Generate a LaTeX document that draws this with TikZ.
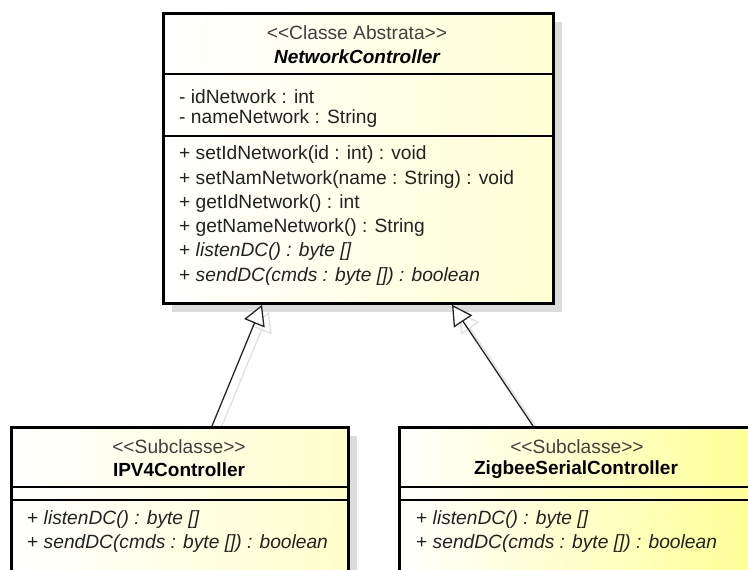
\documentclass[tikz,border=0pt]{standalone}
\usepackage{fontspec}
\setmainfont{Liberation Sans}[Ligatures=TeXOff]
\usetikzlibrary{arrows.meta,calc,shadows,backgrounds}
\definecolor{ylA}{HTML}{FFFFD4}
\definecolor{ylB}{HTML}{FFFFCC}
\definecolor{ylC}{HTML}{FFFF96}
\definecolor{shd}{HTML}{DCDCDC}
\definecolor{txt}{HTML}{222222}
\definecolor{stxt}{HTML}{404040}
\begin{document}
\begin{tikzpicture}[x=1pt,y=-1pt,
  font=\fontsize{19.2}{22}\selectfont,
  umlbox/.style={draw=black, line width=2.8pt, rectangle, inner sep=0pt, anchor=north west,
    drop shadow={shadow xshift=9pt, shadow yshift=-9pt, fill=shd, opacity=1}},
  divider/.style={draw=black, line width=1.3pt},
  lbl/.style={anchor=west, inner sep=0pt, text=txt},
  ster/.style={anchor=center, inner sep=0pt, text=stxt},
  cname/.style={anchor=center, inner sep=0pt, text=black, font=\fontsize{19}{22}\selectfont\bfseries},
  gen/.style={draw=black!85, line width=1.3pt, -{Triangle[length=20pt,width=22pt,fill=white,line width=1.3pt]}},
  genshadow/.style={draw=black!12, line width=1.3pt, -{Triangle[length=20pt,width=22pt,open,line width=1.3pt]}}
]
\useasboundingbox (0,0) rectangle (748,570);
\clip (0,0) rectangle (748,570);

% boxes
\node[umlbox, minimum width=390pt, minimum height=290pt, left color=white, right color=ylA] (nc) at (162,12) {};
\node[umlbox, minimum width=337pt, minimum height=190pt, left color=white, right color=ylB] (ipv) at (10,426) {};
\node[umlbox, minimum width=356pt, minimum height=190pt, left color=white, right color=ylC] (zig) at (398,426) {};

% dividers
\draw[divider] (nc.west |- 0,74) -- (nc.east |- 0,74);
\draw[divider] (nc.west |- 0,136) -- (nc.east |- 0,136);
\draw[divider] (ipv.west |- 0,487) -- (ipv.east |- 0,487);
\draw[divider] (ipv.west |- 0,500) -- (ipv.east |- 0,500);
\draw[divider] (zig.west |- 0,487) -- (zig.east |- 0,487);
\draw[divider] (zig.west |- 0,500) -- (zig.east |- 0,500);

% NetworkController texts
\node[ster] (nc-st) at (357,33) {<<Classe Abstrata>>};
\node[cname, font=\fontsize{19}{22}\selectfont\bfseries\itshape] (nc-nm) at (357,57) {NetworkController};
\node[lbl] (nc-a1) at (179,97) {- idNetwork : int};
\node[lbl] (nc-a2) at (179,119) {- nameNetwork : String};
\node[lbl] (nc-m1) at (179,155) {+ setIdNetwork(id : int) : void};
\node[lbl] (nc-m2) at (179,180) {+ setNamNetwork(name : String) : void};
\node[lbl] (nc-m3) at (179,204) {+ getIdNetwork() : int};
\node[lbl] (nc-m4) at (179,228) {+ getNameNetwork() : String};
\node[lbl] (nc-m5) at (179,252) {+ \textit{listenDC() : byte []}};
\node[lbl] (nc-m6) at (179,277) {+ \textit{sendDC(cmds : byte []) : boolean}};

% IPV4Controller texts
\node[ster] (ipv-st) at (179,447) {<<Subclasse>>};
\node[cname] (ipv-nm) at (179,470) {IPV4Controller};
\node[lbl] (ipv-m1) at (27,520) {+ \textit{listenDC() : byte []}};
\node[lbl] (ipv-m2) at (27,544) {+ \textit{sendDC(cmds : byte []) : boolean}};

% ZigbeeSerialController texts
\node[ster] (zig-st) at (577,447) {<<Subclasse>>};
\node[cname] (zig-nm) at (576,470) {ZigbeeSerialController};
\node[lbl] (zig-m1) at (416,520) {+ \textit{listenDC() : byte []}};
\node[lbl] (zig-m2) at (416,544) {+ \textit{sendDC(cmds : byte []) : boolean}};

% connector anchor points
\coordinate (ipv-top) at ([xshift=202pt]ipv.north west);
\coordinate (nc-tipL) at ([xshift=100pt]nc.south west);
\coordinate (zig-top) at ([xshift=135pt]zig.north west);
\coordinate (nc-tipR) at ([xshift=290pt]nc.south west);

% connector shadows
\begin{scope}[on background layer]
  \draw[genshadow] ($(ipv-top)+(7,7)$) -- ($(nc-tipL)+(7,7)$);
  \draw[genshadow] ($(zig-top)+(7,7)$) -- ($(nc-tipR)+(7,7)$);
\end{scope}

% generalization connectors
\draw[gen] (ipv-top) -- (nc-tipL);
\draw[gen] (zig-top) -- (nc-tipR);
\end{tikzpicture}
\end{document}
